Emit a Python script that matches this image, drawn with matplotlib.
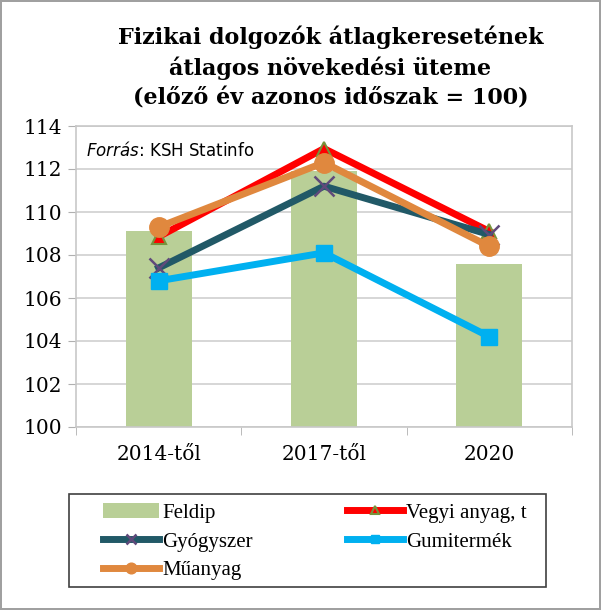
import matplotlib.pyplot as plt
from matplotlib.patches import Rectangle
import numpy as np

kategoriak = ["2014-től", "2017-től", "2020"]
feldip = [109.1, 111.9, 107.6]
vegyi = [108.85, 112.95, 109.1]
gyogyszer = [107.4, 111.2, 108.95]
gumi = [106.8, 108.1, 104.2]
muanyag = [109.3, 112.3, 108.4]

fig = plt.figure(figsize=(6.01, 6.10), dpi=100)
fig.patch.set_edgecolor("#a0a0a0")
fig.patch.set_linewidth(1.5)
ax = fig.add_axes([76 / 601, 1 - 427 / 610, 496 / 601, 301 / 610])

x = np.arange(len(kategoriak))
b = ax.bar(x, feldip, width=0.4, color="#b9cf97", label="Feldip", zorder=2)
l1, = ax.plot(x, vegyi, color="#ff0000", lw=5, marker="^", ms=10, mfc="#ff0000",
              mec="#77933c", mew=1.5, label="Vegyi anyag, t", zorder=3)
l2, = ax.plot(x, gyogyszer, color="#215967", lw=5, marker="x", ms=14, mec="#604a7b",
              mew=1.8, label="Gyógyszer", zorder=3)
l3, = ax.plot(x, gumi, color="#00b0f0", lw=5, marker="s", ms=11, label="Gumitermék", zorder=4)
l4, = ax.plot(x, muanyag, color="#e0883e", lw=5, marker="o", ms=14, label="Műanyag", zorder=5)

ax.set_xlim(-0.5, 2.5)
ax.set_ylim(100, 114)
ax.set_yticks(range(100, 115, 2))
ax.set_xticks(x)
ax.set_xticklabels(kategoriak)
ax.set_xticks([-0.5, 0.5, 1.5, 2.5], minor=True)
ax.tick_params(axis="x", which="major", length=0, pad=13)
ax.tick_params(axis="x", which="minor", length=6, color="#b0b0b0", direction="out")
ax.tick_params(axis="y", length=6, color="#b0b0b0", pad=4)
for lbl in ax.get_xticklabels() + ax.get_yticklabels():
    lbl.set_fontfamily("DejaVu Serif")
    lbl.set_fontsize(14.5)
ax.grid(axis="y", color="#d0d0d0", lw=1.2, zorder=0)
ax.set_axisbelow(True)
for s in ax.spines.values():
    s.set_color("#c8c8c8")
    s.set_linewidth(1.2)

ax.text(0.02, 0.95, r"$\it{Forrás}$: KSH Statinfo", transform=ax.transAxes,
        fontsize=12, va="top", ha="left", family="DejaVu Sans")

fig.text(0.55, 0.958, "Fizikai dolgozók átlagkeresetének\nátlagos növekedési üteme\n(előző év azonos időszak = 100)",
         ha="center", va="top", fontsize=16, fontweight="bold", family="DejaVu Serif",
         linespacing=1.42)

# jelmagyarázat kerete
fig.patches.append(Rectangle((69 / 601, 1 - 587 / 610), 477 / 601, 93 / 610,
                             transform=fig.transFigure, fill=False,
                             edgecolor="#404040", lw=1.2))

# oszloponkénti kitöltés miatt: Feldip, Gyógyszer, Műanyag | Vegyi, Gumi
handles = [b, l2, l4, l1, l3]
labels = [h.get_label() for h in handles]
leg = fig.legend(handles, labels, ncol=2, loc="upper left",
                 bbox_to_anchor=(103 / 601, 1 - 503 / 610), frameon=False,
                 prop={"family": "Liberation Serif", "size": 15}, handlelength=2.7,
                 handletextpad=0.15, labelspacing=0.45, borderpad=0.0,
                 columnspacing=4.5, markerscale=0.55, borderaxespad=0)

fig.savefig("out.png", dpi=100)
